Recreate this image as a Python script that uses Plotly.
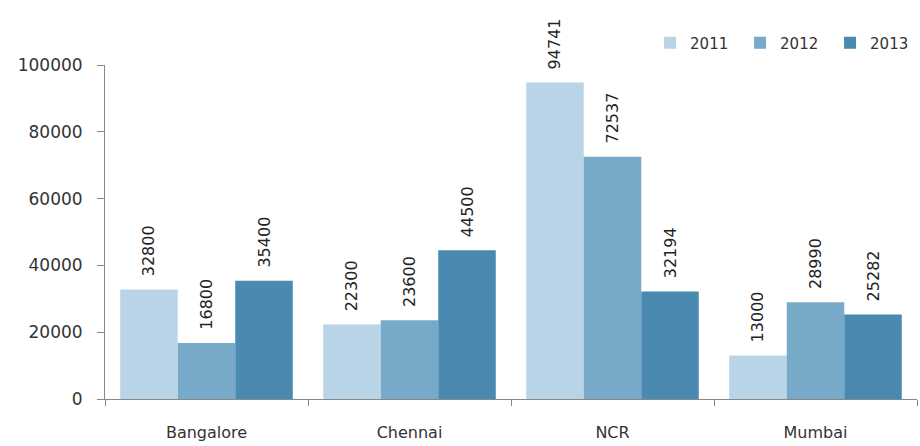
import plotly.graph_objects as go

cities = ["Bangalore", "Chennai", "NCR", "Mumbai"]
years = ["2011", "2012", "2013"]
v2011 = [32800, 22300, 94741, 13000]
v2012 = [16800, 23600, 72537, 28990]
v2013 = [35400, 44500, 32194, 25282]
yticks = [0, 20000, 40000, 60000, 80000, 100000]

colors = ["#B9D4E6", "#77A9C9", "#4A89B0"]
series = [v2011, v2012, v2013]
FONT = "DejaVu Sans"
pad = "\u00a0\u00a0"

fig = go.Figure()
for yr, vals, c in zip(years, series, colors):
    fig.add_trace(go.Bar(
        x=cities, y=vals, name=yr, marker_color=c,
        marker_line_width=0,
        text=[pad + str(v) for v in vals], textposition="outside",
        textangle=-90, cliponaxis=False, constraintext="none",
        textfont=dict(size=16, color="#222222", family=FONT),
    ))

fig.update_layout(
    width=920, height=446,
    margin=dict(l=105, r=3, t=65, b=47, autoexpand=False),
    plot_bgcolor="white", paper_bgcolor="white",
    barmode="group", bargap=0.15, bargroupgap=0,
    font=dict(family=FONT, size=16, color="#333333"),
    showlegend=True,
    legend=dict(orientation="h", xref="container", x=0.7066, xanchor="left",
                yref="container", y=1 - 43 / 446, yanchor="middle",
                font=dict(size=15), traceorder="normal", itemwidth=30,
                entrywidth=45, bgcolor="rgba(0,0,0,0)"),
)
fig.update_yaxes(range=[0, 100000], tickvals=yticks, ticktext=[str(t) for t in yticks],
                 showgrid=False, showline=True, linecolor="#888888", linewidth=1,
                 ticks="outside", ticklen=7, tickcolor="#888888", zeroline=False,
                 ticklabelstandoff=11, tickfont=dict(size=17))
fig.update_xaxes(showline=True, linecolor="#888888", linewidth=1, showgrid=False,
                 ticks="outside", ticklen=6, tickcolor="#888888", tickson="boundaries",
                 ticklabelstandoff=19, tickfont=dict(size=16))
fig.write_html("out.html", config={"displayModeBar": False},
               post_script="document.body.style.margin='0';")
